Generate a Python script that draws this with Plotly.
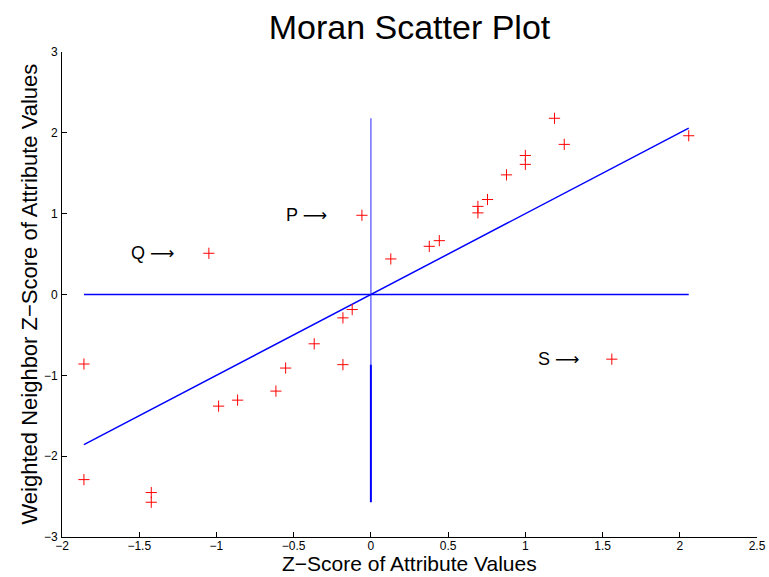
import plotly.graph_objects as go

# Data
z_attr = [-1.858, -1.858, -1.422, -1.422, -1.049, -0.986, -0.863, -0.615, -0.552,
          -0.367, -0.181, -0.181, -0.121, -0.058, 0.129, 0.378, 0.443, 0.693,
          0.693, 0.755, 0.878, 1.0, 1.0, 1.189, 1.252, 1.56, 2.058]
w_neighbor = [-0.86, -2.29, -2.45, -2.57, 0.51, -1.381, -1.307, -1.195, -0.91,
              -0.61, -0.868, -0.289, -0.186, 0.98, 0.44, 0.596, 0.666, 1.09,
              1.01, 1.175, 1.48, 1.72, 1.61, 2.18, 1.857, -0.80, 1.964]
slope = 1.0
split_y = -0.868

labels = ["Q", "P", "S"]
label_x = [-1.565, -0.56, 1.068]
label_y = [0.51, 0.98, -0.80]

x_ticks = [-2, -1.5, -1, -0.5, 0, 0.5, 1, 1.5, 2, 2.5]
y_ticks = [-3, -2, -1, 0, 1, 2, 3]

xmin, xmax = min(z_attr), max(z_attr)
ymin, ymax = min(w_neighbor), max(w_neighbor)

FONT = "Liberation Sans, Arial, Helvetica, sans-serif"

fig = go.Figure()
# quadrant lines
fig.add_trace(go.Scatter(x=[xmin, xmax], y=[0, 0], mode="lines",
                         line=dict(color="#0000ff", width=1.5), hoverinfo="skip"))
fig.add_trace(go.Scatter(x=[0, 0], y=[split_y, ymax], mode="lines",
                         line=dict(color="#6f6fff", width=1.5), hoverinfo="skip"))
fig.add_trace(go.Scatter(x=[0, 0], y=[ymin, split_y], mode="lines",
                         line=dict(color="#0000ff", width=2), hoverinfo="skip"))
# regression line
fig.add_trace(go.Scatter(x=[xmin, xmax], y=[slope * xmin, slope * xmax], mode="lines",
                         line=dict(color="#0000ff", width=1.5), hoverinfo="skip"))
# points
fig.add_trace(go.Scatter(x=z_attr, y=w_neighbor, mode="markers",
                         marker=dict(symbol="cross-thin", size=8,
                                     line=dict(color="#ff0000", width=1))))

ARROW = '<span style="font-family:DejaVu Sans;font-size:17px">\u27f6</span>'
annotations = []
for t, lx, ly in zip(labels, label_x, label_y):
    annotations.append(dict(x=lx, y=ly, xref="x", yref="y", text=t + " " + ARROW,
                            showarrow=False, xanchor="left", yanchor="middle",
                            font=dict(family=FONT, size=18, color="black")))
annotations.append(dict(x=0.5, y=0, xref="paper", yref="paper",
                        text="Z\u2212Score of Attribute Values", showarrow=False,
                        xanchor="center", yanchor="middle", yshift=-26,
                        font=dict(family=FONT, size=21, color="black")))
annotations.append(dict(x=0, y=0.5, xref="paper", yref="paper",
                        text="Weighted Neighbor Z\u2212Score of Attribute Values",
                        showarrow=False, textangle=-90, xanchor="center",
                        yanchor="middle", xshift=-33,
                        font=dict(family=FONT, size=22, color="black")))

fig.update_layout(
    width=769, height=577, autosize=False,
    margin=dict(l=62, r=12, t=52, b=40, autoexpand=False),
    paper_bgcolor="white", plot_bgcolor="white",
    showlegend=False,
    title=dict(text="Moran Scatter Plot", x=0.5, xref="paper", xanchor="center",
               y=1 - 27 / 577, yref="container", yanchor="middle",
               font=dict(family=FONT, size=34, color="black")),
    annotations=annotations,
    xaxis=dict(range=[-2, 2.5], tickvals=x_ticks, ticks="inside", ticklen=5,
               showline=True, linecolor="black", linewidth=1, showgrid=False,
               zeroline=False, mirror=False, tickcolor="black", automargin=False,
               ticklabelstandoff=-2,
               tickfont=dict(family=FONT, size=12, color="black")),
    yaxis=dict(range=[-3, 3], tickvals=y_ticks, ticks="inside", ticklen=5,
               showline=True, linecolor="black", linewidth=1, showgrid=False,
               zeroline=False, mirror=False, tickcolor="black", automargin=False,
               ticklabelstandoff=1,
               tickfont=dict(family=FONT, size=12, color="black")),
)

fig.write_html("out.html", config={"responsive": False})
